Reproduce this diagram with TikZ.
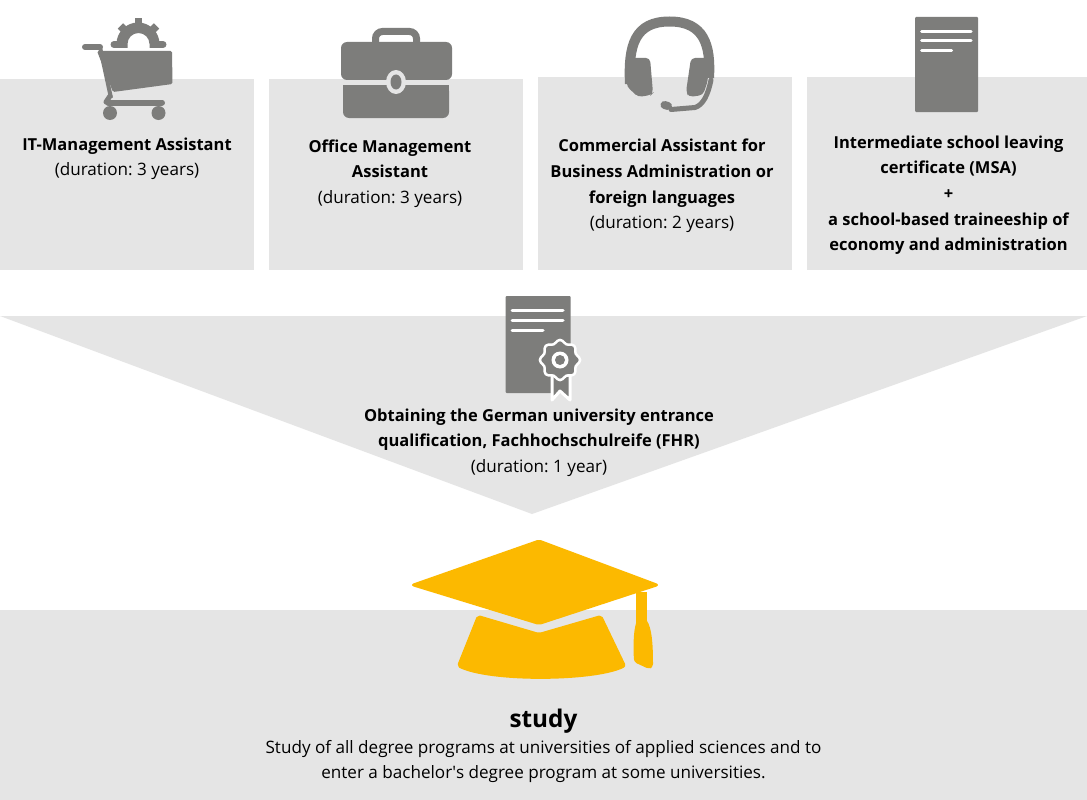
\documentclass[tikz,border=0pt]{standalone}
\usepackage{fontspec}
\setmainfont{Open Sans}
\newfontfamily\plainfont{Open Sans}
\newcommand{\semifont}{\bfseries\fontsize{16.5}{25.6}\selectfont}
\usetikzlibrary{positioning}
\definecolor{panelgray}{HTML}{E5E5E5}
\definecolor{icongray}{HTML}{7D7D7B}
\definecolor{capyellow}{HTML}{FCB900}
\frenchspacing
\tikzset{
	panel/.style={fill=panelgray},
	icon/.style={fill=icongray},
	iconline/.style={draw=white,line width=3pt,line cap=round},
	label/.style={align=center,inner sep=0pt,anchor=north,font=\fontsize{17.1}{25.6}\selectfont},
	capshape/.style={fill=capyellow,draw=capyellow,line width=2pt,line join=round}
}
\begin{document}
\begin{tikzpicture}[x=1pt,y=-1pt]
	\useasboundingbox (0,0) rectangle (1087,800);
	\fill[white] (0,0) rectangle (1087,800);
	% panels
	\foreach \x/\w/\t in {0/254/79,269/254/79,538/254/77,807/280/77}
		\fill[panel] (\x,\t) rectangle (\x+\w,270);
	\fill[panel] (0,316) -- (1087,316) -- (532,514) -- cycle;
	\fill[panel] (0,610) rectangle (1087,800);
	% cart
	\fill[icon] (116.5,44) arc (180:360:21.5) -- (159.5,48) -- (149.5,48) -- (149.5,44) arc (360:180:11) -- (127.5,48) -- (116.5,48) -- cycle;
	\foreach \a in {45,90,135}
		\draw[icongray,line width=7.5pt] (138.5,44) ++(-\a:19) -- ++(-\a:6.5);
	\foreach \x/\e in {119/114,158/163}
		\draw[icongray,line width=7pt,line cap=round] (\x,44.5) -- (\e,44.5);
	\draw[icongray,line width=6pt,line cap=round] (85,47) -- (100,47);
	\draw[icongray,line width=4pt] (100,47) -- (111,98);
	\fill[icon,rounded corners=1.5pt] (97,51) -- (172,51) -- (172.5,84) -- (113,92) -- cycle;
	\draw[icongray,line width=5pt,line cap=round] (110,96) -- (106,102);
	\draw[icongray,line width=6pt,line cap=round] (108,102.5) -- (162,102.5);
	\foreach \x in {110,158.5}
		\fill[icon] (\x,113) circle (7);
	% briefcase
	\draw[icongray,line width=7pt,rounded corners=7pt] (375.5,44) -- (375.5,31.5) -- (416.5,31.5) -- (416.5,44);
	\fill[icon,rounded corners=6pt] (341,42) rectangle (452,80);
	\fill[icon,rounded corners=6pt] (343,85) rectangle (449,118);
	\fill[icon] (343,85) rectangle (449,90);
	\fill[panel] (396,82) ellipse (10 and 12);
	\fill[icon] (396,82) ellipse (5.5 and 7.5);
	% headset
	\draw[icongray,line width=10pt] (630,84) .. controls (628,45) and (635,21.5) .. (669.5,21.5) .. controls (704,21.5) and (711,45) .. (709,78);
	\fill[icon,rounded corners=4pt] (630,58) -- (650,58) -- (653,93) -- (651,95) -- (638,97) -- (633,92) -- (627,87) -- (626,70) -- cycle;
	\fill[icon,rounded corners=4pt] (691,58) -- (708,58) -- (708,80) -- (703,95) -- (689,97) -- (686,92) -- cycle;
	\draw[icongray,line width=5pt,line cap=round] (711,80) .. controls (708,95) and (703,105) .. (695,107.5) -- (671,109.5);
	\draw[icongray,line width=8pt,line cap=round] (664.5,105) -- (668,106);
	% document
	\fill[icon,rounded corners=1pt] (915,17) rectangle (978,112);
	\foreach \y/\e in {32/971,41/971,50.7/951.5}
		\draw[iconline] (921.5,\y) -- (\e,\y);
	% certificate
	\fill[icon,rounded corners=1pt] (505.5,296) rectangle (570.5,393);
	\foreach \y/\e in {310.7/563,320.7/563,330/543}
		\draw[iconline] (512,\y) -- (\e,\y);
	\filldraw[icon,draw=white,line width=3pt,line join=round] (552,375) -- (552,400) -- (560,391) -- (570,400) -- (570,375) -- cycle;
	\begin{scope}[shift={(560,360)}]
		\filldraw[icon,draw=white,line width=2.5pt] plot[domain=0:352.5,samples=48,smooth cycle] (\x:{18.5+1.6*cos(8*\x)});
		\fill[white] (0,0) circle (8.5);
		\fill[icon] (0,0) circle (5);
	\end{scope}
	% graduation cap
	\filldraw[capshape,rounded corners=2pt] (539,540.5) -- (658,585) -- (539,624) -- (412,585) -- cycle;
	\filldraw[capshape,rounded corners=2pt] (478,616) -- (539,634) -- (601,616) -- (625,666) .. controls (595,681) and (490,682) .. (458,666) -- cycle;
	\draw[capyellow,line width=11pt] (641.5,592) -- (641.5,625);
	\fill[capyellow,rounded corners=3pt] (638,618) .. controls (634,628) and (633,640) .. (634,662) -- (649,669) -- (653,667) .. controls (653,645) and (652,628) .. (645,618) -- cycle;
	% texts
	\node[label] (L1) at (127,137.5) {{\semifont IT-Management Assistant}\\(duration: 3 years)};
	\node[label] (L2) at (390,139.5) {{\semifont Office Management}\\{\semifont Assistant}\\(duration: 3 years)};
	\node[label] (L3) at (662,139) {{\semifont Commercial Assistant for}\\{\semifont Business Administration or}\\{\semifont foreign languages}\\(duration: 2 years)};
	\node[label] (L4) at (948.5,135.5) {{\semifont Intermediate school leaving}\\{\semifont certificate (MSA)}\\{\semifont +}\\{\semifont a school-based traineeship of}\\{\semifont economy and administration}};
	\node[label] (L5) at (539,408.5) {{\semifont Obtaining the German university entrance}\\{\semifont qualification, Fachhochschulreife (FHR)}\\(duration: 1 year)};
	\node[label,font=\fontsize{24.3}{30}\selectfont\bfseries] (S1) at (543.5,708.5) {study};
	\node[label] (S2) at (543.5,740) {Study of all degree programs at universities of applied sciences and to\\enter a bachelor{\plainfont'}s degree program at some universities.};
\end{tikzpicture}
\end{document}
